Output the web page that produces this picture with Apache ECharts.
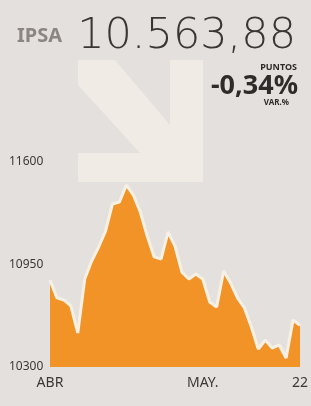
<!DOCTYPE html>
<html>
<head>
<meta charset="utf-8">
<title>IPSA</title>
<script src="https://cdn.jsdelivr.net/npm/echarts@6/dist/echarts.min.js"></script>
<style>
  html, body {
    margin: 0;
    padding: 0;
    background: #e4e0dd;
  }
  #chart {
    width: 311px;
    height: 406px;
  }
</style>
</head>
<body>
<div id="chart"></div>
<script>
  // cierre diario del IPSA, abril - 22 de mayo
  var days = [
    '01-04', '02-04', '03-04', '04-04', '05-04', '08-04', '09-04', '10-04', '11-04', '12-04',
    '15-04', '16-04', '17-04', '18-04', '19-04', '22-04', '23-04', '24-04', '25-04', '26-04',
    '29-04', '30-04', '02-05', '03-05', '06-05', '07-05', '08-05', '09-05', '10-05', '13-05',
    '14-05', '15-05', '16-05', '17-05', '20-05', '21-05', '22-05'
  ];
  var closes = [
    10852, 10738, 10725, 10687, 10516, 10858, 10972, 11061, 11162, 11334,
    11346, 11454, 11391, 11283, 11131, 10998, 10985, 11156, 11067, 10902,
    10858, 10890, 10858, 10712, 10680, 10909, 10833, 10738, 10674, 10554,
    10414, 10471, 10420, 10440, 10357, 10598, 10564
  ];
  var yTicks = [10300, 10950, 11600];
  var xTickIdx = [0, 22, 36];
  var xTickLabels = ['ABR', 'MAY.', '22'];

  var chart = echarts.init(document.getElementById('chart'), null, { renderer: 'canvas' });

  var option = {
    backgroundColor: '#e4e0dd',
    animation: false,
    textStyle: { fontFamily: 'Noto Sans' },
    grid: {
      left: 50,
      right: 11,
      top: 162,
      bottom: 39
    },
    graphic: [
      // flecha de fondo (baja)
      {
        type: 'polygon',
        z: 0,
        shape: {
          points: [[78, 60], [115, 60], [170, 125], [170, 60], [203, 60], [203, 182],
                   [78, 182], [78, 153], [140, 153], [78, 85]]
        },
        style: { fill: '#f1ebe5' }
      },
      {
        type: 'text', left: 17, top: 26, z: 10,
        style: { text: 'IPSA', fill: '#8b8683', font: 'bold 20px "Noto Sans"' }
      },
      {
        type: 'text', right: 15, top: 15, z: 10,
        style: { text: '10.563,88', fill: '#3a3634', font: '200 43px "DejaVu Sans"' }
      },
      {
        type: 'text', right: 14, top: 63, z: 10,
        style: { text: 'PUNTOS', fill: '#2e2b2a', font: 'bold 9px "Noto Sans"' }
      },
      {
        type: 'text', right: 13, top: 73, z: 10,
        style: { text: '-0,34%', fill: '#2e2b2a', font: 'bold 27px "Noto Sans"' }
      },
      {
        type: 'text', right: 22, top: 99, z: 10,
        style: { text: 'VAR.%', fill: '#2e2b2a', font: 'bold 8px "Noto Sans"' }
      }
    ],
    xAxis: {
      type: 'category',
      data: days,
      boundaryGap: false,
      axisLine: { show: false },
      axisTick: { show: false },
      splitLine: { show: false },
      axisLabel: {
        interval: function (idx) {
          return xTickIdx.indexOf(idx) >= 0;
        },
        formatter: function (val, idx) {
          var k = xTickIdx.indexOf(idx);
          return k >= 0 ? xTickLabels[k] : '';
        },
        margin: 9,
        color: '#3b3836',
        fontSize: 14,
        fontFamily: 'Noto Sans'
      }
    },
    yAxis: {
      type: 'value',
      min: yTicks[0],
      max: yTicks[yTicks.length - 1],
      interval: yTicks[1] - yTicks[0],
      axisLine: { show: false },
      axisTick: { show: false },
      splitLine: { show: false },
      axisLabel: {
        align: 'left',
        margin: 41,
        color: '#3b3836',
        fontSize: 12,
        fontFamily: 'Noto Sans',
        formatter: function (v) {
          return String(v);
        }
      }
    },
    series: [
      {
        type: 'line',
        data: closes,
        symbol: 'none',
        z: 3,
        lineStyle: { color: '#f7f0e4', width: 3 },
        areaStyle: { color: '#f19326', opacity: 1, origin: 'start' }
      }
    ]
  };

  chart.setOption(option);
</script>
</body>
</html>
